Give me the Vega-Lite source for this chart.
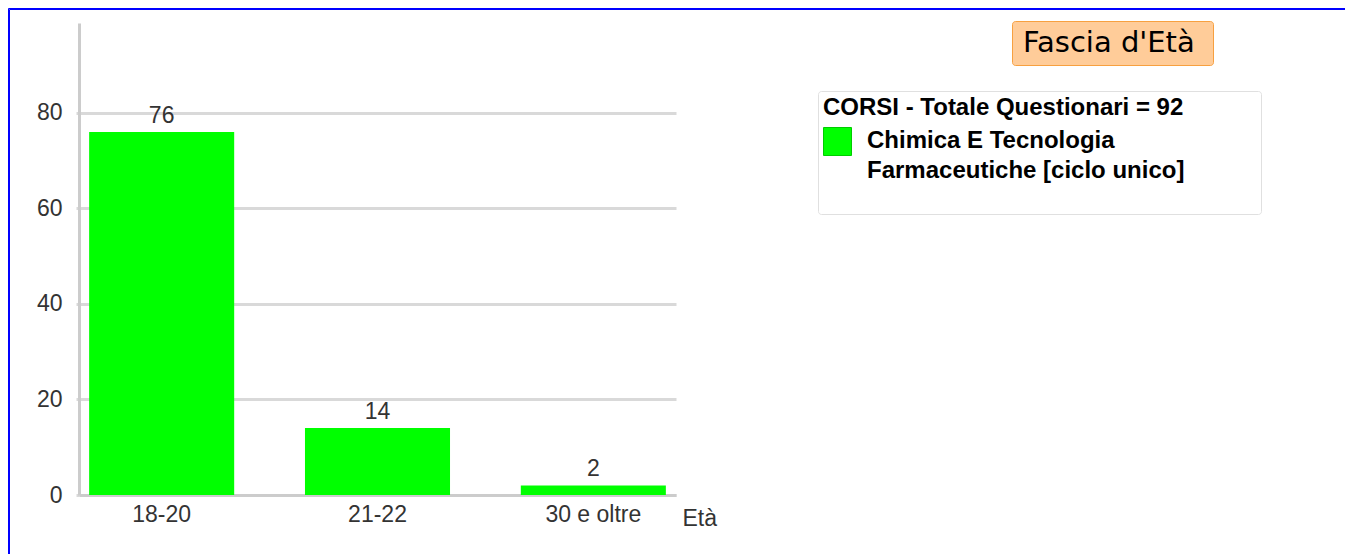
{
  "$schema": "https://vega.github.io/schema/vega-lite/v6.json",
  "width": 597,
  "height": 472,
  "autosize": "none",
  "padding": {"left": 79, "top": 23, "right": 669, "bottom": 59},
  "background": "white",
  "config": {"view": {"stroke": null}, "font": "Liberation Sans"},
  "data": {
    "values": [
      {"eta": "18-20", "n": 76, "corso": "Chimica E Tecnologia Farmaceutiche [ciclo unico]"},
      {"eta": "21-22", "n": 14, "corso": "Chimica E Tecnologia Farmaceutiche [ciclo unico]"},
      {"eta": "30 e oltre", "n": 2, "corso": "Chimica E Tecnologia Farmaceutiche [ciclo unico]"}
    ]
  },
  "layer": [
    {
      "mark": {"type": "bar"},
      "encoding": {
        "x": {
          "field": "eta", "type": "nominal", "sort": null,
          "scale": {"paddingInner": 0.328, "paddingOuter": 0.047},
          "axis": {
            "title": "Età", "titleX": 603, "titleY": 30, "titleAlign": "left", "titleBaseline": "alphabetic",
            "titleAnchor": null, "titleFontWeight": "normal", "titleFontSize": 23, "titleColor": "#333333", "titleFont": "Liberation Sans",
            "labelAngle": 0, "labelFontSize": 23, "labelColor": "#333333", "labelFont": "Liberation Sans", "labelPadding": 8,
            "ticks": false, "domainColor": "#cccccc", "domainWidth": 3
          }
        },
        "y": {
          "field": "n", "type": "quantitative",
          "scale": {"domain": [0, 98.8], "nice": false},
          "axis": {
            "title": null, "values": [0, 20, 40, 60, 80],
            "labelFontSize": 23, "labelColor": "#333333", "labelFont": "Liberation Sans", "labelPadding": 14,
            "ticks": true, "tickSize": 3, "tickColor": "#d9d9d9", "tickWidth": 3,
            "grid": true, "gridColor": "#d9d9d9", "gridWidth": 3,
            "domainColor": "#cccccc", "domainWidth": 3
          }
        },
        "fill": {
          "field": "corso", "type": "nominal",
          "scale": {"range": ["#00ff00"]},
          "legend": {
            "orient": "none", "legendX": 739, "legendY": 68,
            "title": "CORSI - Totale Questionari = 92\u2800\u2800\u2800\u2800",
            "titleFont": "Liberation Sans", "titleFontSize": 24, "titleFontWeight": "bold", "titleColor": "#000000",
            "titleLimit": 2000, "titlePadding": 7,
            "labelFont": "Liberation Sans", "labelFontSize": 24, "labelFontWeight": "bold", "labelColor": "#000000",
            "labelLimit": 2000, "labelOffset": 15,
            "labelExpr": "[slice(datum.label, 0, 20), slice(datum.label, 21)]",
            "labelBaseline": "top",
            "clipHeight": 82,
            "symbolType": "square", "symbolSize": 784, "symbolStrokeColor": "#00cc00", "symbolStrokeWidth": 1,
            "padding": 5, "strokeColor": "#e0e0e0", "cornerRadius": 3, "fillColor": "#ffffff",
            "encode": {
              "labels": {"update": {"lineHeight": {"value": 30}, "y": {"value": 2}}},
              "symbols": {"update": {"y": {"value": 14.5}}}
            }
          }
        }
      }
    },
    {
      "mark": {"type": "text", "dy": -9, "baseline": "alphabetic", "fontSize": 23, "color": "#333333", "font": "Liberation Sans"},
      "encoding": {
        "x": {"field": "eta", "type": "nominal", "sort": null},
        "y": {"field": "n", "type": "quantitative"},
        "text": {"field": "n", "type": "quantitative"}
      }
    },
    {
      "data": {"values": [{"t": "Fascia d'Età"}]},
      "mark": {"type": "point", "size": 0, "opacity": 0},
      "encoding": {
        "shape": {
          "field": "t", "type": "nominal",
          "legend": {
            "orient": "none", "legendX": 933, "legendY": -2, "title": null,
            "labelFont": "DejaVu Sans", "labelFontSize": 29, "labelColor": "#000000", "labelOffset": -196.5, "labelLimit": 2000,
            "symbolSize": 4, "symbolOpacity": 0, "symbolStrokeWidth": 0, "symbolOffset": 171.5,
            "padding": 7, "fillColor": "#ffcc99", "strokeColor": "#f7a040", "cornerRadius": 3
          }
        }
      }
    },
    {
      "data": {"values": [{"f": "frame"}]},
      "mark": {"type": "point", "opacity": 0},
      "encoding": {
        "size": {
          "field": "f", "type": "ordinal",
          "legend": {
            "orient": "none", "legendX": -71, "legendY": -15, "title": null,
            "labelExpr": "''", "symbolOpacity": 0, "padding": 2000,
            "strokeColor": "#0000ff"
          }
        }
      }
    },
    {
      "data": {"values": [{"g": "frame2"}]},
      "mark": {"type": "point", "fillOpacity": 0, "strokeOpacity": 0},
      "encoding": {
        "opacity": {
          "field": "g", "type": "ordinal",
          "legend": {
            "orient": "none", "legendX": -70, "legendY": -14, "title": null,
            "labelExpr": "''", "symbolOpacity": 0, "padding": 2000,
            "strokeColor": "#0000ff"
          }
        }
      }
    }
  ]
}
